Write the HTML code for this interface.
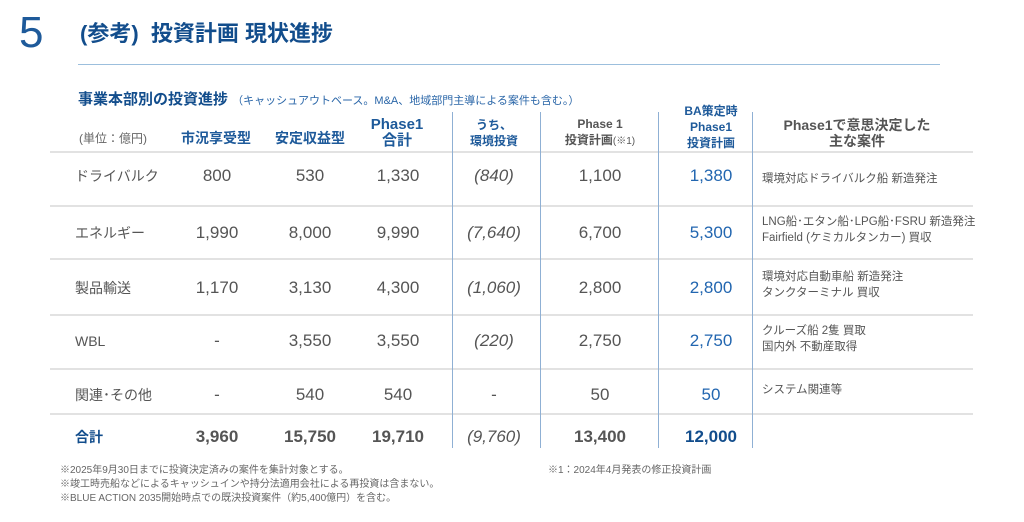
<!DOCTYPE html>
<html><head><meta charset="utf-8"><style>
body{margin:0;width:1024px;height:522px;background:#fff;position:relative;overflow:hidden;font-family:"Liberation Sans","Noto Sans CJK JP",sans-serif;color:#555}
.a{position:absolute;white-space:nowrap}
.c{position:absolute;transform:translate(-50%,-50%);text-align:center;white-space:nowrap}
.hl{position:absolute;left:50px;width:923px;height:2px;background:#e2e2e2}
.vl{position:absolute;top:112px;height:336px;width:1px;background:#8fb0d4}
.h{font-weight:bold;color:#1e5a9a;font-size:14px;line-height:16px}
.g{font-weight:bold;color:#555;font-size:14px;line-height:16px}
.n{font-size:17px;color:#555}
.b{font-size:17px;color:#2266b0}
.t{font-size:17px;font-weight:bold;color:#555}
.lab{position:absolute;left:75px;font-size:14px;color:#555;transform:translateY(-50%)}
.cs{position:absolute;left:762px;font-size:11.5px;line-height:16px;color:#555;transform:translateY(-50%)}
.i{font-style:italic}
</style></head><body>
<div class="a" style="left:19px;top:8px;font-size:44px;color:#1e5a9a;line-height:50px">5</div>
<div class="a" style="left:80px;top:16px;font-size:22px;font-weight:bold;color:#124d8c">(参考)&nbsp; 投資計画 現状進捗</div>
<div class="a" style="left:78px;top:64px;width:862px;height:1px;background:#9cbfdd"></div>
<div class="a" style="left:78px;top:88px;font-size:15px;font-weight:bold;color:#124d8c">事業本部別の投資進捗 <span style="font-size:11px;font-weight:normal;color:#2a66a8">（キャッシュアウトベース。M&amp;A、地域部門主導による案件も含む。）</span></div>

<div class="c" style="left:113px;top:138px;font-size:12px;color:#666">(単位：億円)</div>
<div class="c h" style="left:216px;top:138px">市況享受型</div>
<div class="c h" style="left:310px;top:138px">安定収益型</div>
<div class="c h" style="left:397px;top:133px;font-size:15px">Phase1<br>合計</div>
<div class="c h" style="left:494px;top:133px;font-size:12px">うち、<br>環境投資</div>
<div class="c g" style="left:600px;top:133px;font-size:12px">Phase 1<br>投資計画<span style="font-weight:normal;font-size:10px">(※1)</span></div>
<div class="c h" style="left:711px;top:127px;font-size:12px">BA策定時<br>Phase1<br>投資計画</div>
<div class="c g" style="left:857px;top:133px;font-size:14px">Phase1で意思決定した<br>主な案件</div>

<div class="hl" style="top:151px"></div>
<div class="hl" style="top:205px"></div>
<div class="hl" style="top:258px"></div>
<div class="hl" style="top:314px"></div>
<div class="hl" style="top:368px"></div>
<div class="hl" style="top:413px"></div>
<div class="vl" style="left:452px"></div>
<div class="vl" style="left:540px"></div>
<div class="vl" style="left:658px"></div>
<div class="vl" style="left:752px"></div>

<div class="lab" style="top:176px">ドライバルク</div>
<div class="c n" style="left:217px;top:176px">800</div><div class="c n" style="left:310px;top:176px">530</div><div class="c n" style="left:398px;top:176px">1,330</div><div class="c n i" style="left:494px;top:176px">(840)</div><div class="c n" style="left:600px;top:176px">1,100</div><div class="c b" style="left:711px;top:176px">1,380</div>
<div class="cs" style="top:179px">環境対応ドライバルク船 新造発注</div>

<div class="lab" style="top:233px">エネルギー</div>
<div class="c n" style="left:217px;top:233px">1,990</div><div class="c n" style="left:310px;top:233px">8,000</div><div class="c n" style="left:398px;top:233px">9,990</div><div class="c n i" style="left:494px;top:233px">(7,640)</div><div class="c n" style="left:600px;top:233px">6,700</div><div class="c b" style="left:711px;top:233px">5,300</div>
<div class="cs" style="top:230px">LNG船･エタン船･LPG船･FSRU 新造発注<br>Fairfield (ケミカルタンカー) 買収</div>

<div class="lab" style="top:288px">製品輸送</div>
<div class="c n" style="left:217px;top:288px">1,170</div><div class="c n" style="left:310px;top:288px">3,130</div><div class="c n" style="left:398px;top:288px">4,300</div><div class="c n i" style="left:494px;top:288px">(1,060)</div><div class="c n" style="left:600px;top:288px">2,800</div><div class="c b" style="left:711px;top:288px">2,800</div>
<div class="cs" style="top:285px">環境対応自動車船 新造発注<br>タンクターミナル 買収</div>

<div class="lab" style="top:341px">WBL</div>
<div class="c n" style="left:217px;top:341px">-</div><div class="c n" style="left:310px;top:341px">3,550</div><div class="c n" style="left:398px;top:341px">3,550</div><div class="c n i" style="left:494px;top:341px">(220)</div><div class="c n" style="left:600px;top:341px">2,750</div><div class="c b" style="left:711px;top:341px">2,750</div>
<div class="cs" style="top:339px">クルーズ船 2隻 買取<br>国内外 不動産取得</div>

<div class="lab" style="top:395px">関連･その他</div>
<div class="c n" style="left:217px;top:395px">-</div><div class="c n" style="left:310px;top:395px">540</div><div class="c n" style="left:398px;top:395px">540</div><div class="c n" style="left:494px;top:395px">-</div><div class="c n" style="left:600px;top:395px">50</div><div class="c b" style="left:711px;top:395px">50</div>
<div class="cs" style="top:390px">システム関連等</div>

<div class="lab" style="top:437px;font-weight:bold;color:#124d8c">合計</div>
<div class="c t" style="left:217px;top:437px">3,960</div><div class="c t" style="left:310px;top:437px">15,750</div><div class="c t" style="left:398px;top:437px">19,710</div><div class="c t i" style="left:494px;top:437px;font-weight:normal">(9,760)</div><div class="c t" style="left:600px;top:437px">13,400</div><div class="c t" style="left:711px;top:437px;color:#124d8c">12,000</div>

<div class="a" style="left:60px;top:464px;font-size:10px;line-height:14px;color:#666">※2025年9月30日までに投資決定済みの案件を集計対象とする。<br>※竣工時売船などによるキャッシュインや持分法適用会社による再投資は含まない。<br>※BLUE ACTION 2035開始時点での既決投資案件（約5,400億円）を含む。</div>
<div class="a" style="left:548px;top:464px;font-size:10px;line-height:14px;color:#666">※1：2024年4月発表の修正投資計画</div>
</body></html>
